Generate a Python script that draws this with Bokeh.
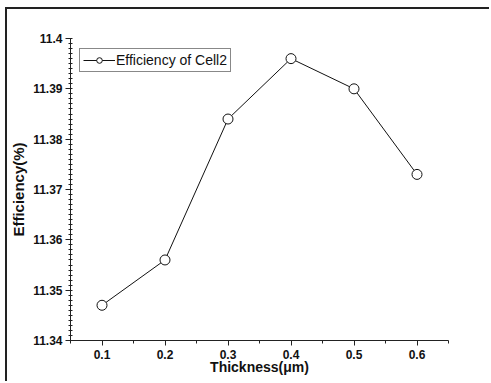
from bokeh.plotting import figure
from bokeh.models import Range1d, FixedTicker, Legend, LegendItem
from bokeh.embed import file_html
from bokeh.resources import INLINE

thickness = [0.1, 0.2, 0.3, 0.4, 0.5, 0.6]
efficiency = [11.347, 11.356, 11.384, 11.396, 11.390, 11.373]
x_ticks = [0.1, 0.2, 0.3, 0.4, 0.5, 0.6]
y_ticks = [11.34, 11.35, 11.36, 11.37, 11.38, 11.39, 11.40]
y_tick_labels = {11.34: "11.34", 11.35: "11.35", 11.36: "11.36", 11.37: "11.37",
                 11.38: "11.38", 11.39: "11.39", 11.40: "11.4"}
series_name = "Efficiency of Cell2"
x_title = "Thickness(μm)"
y_title = "Efficiency(%)"

FONT = "Liberation Sans"

p = figure(width=484, height=374, output_backend="svg", toolbar_location=None,
           x_range=Range1d(0.05, 0.65), y_range=Range1d(11.34, 11.40),
           min_border_left=61, min_border_right=43, min_border_top=29, min_border_bottom=43)
p.styles = {"margin-left": "5px", "margin-top": "7px",
            "border-left": "2px solid #222", "border-top": "2px solid #222"}
p.outline_line_color = None
p.grid.visible = False
p.background_fill_color = "white"
p.border_fill_color = "white"

line = p.line(thickness, efficiency, line_color="#111", line_width=1)
pts = p.scatter(thickness, efficiency, size=10, marker="circle",
                fill_color="white", line_color="#111", line_width=1)

xa = p.xaxis[0]
xa.ticker = FixedTicker(ticks=x_ticks, minor_ticks=[0.05, 0.15, 0.25, 0.35, 0.45, 0.55, 0.65])
xa.axis_label = x_title
ya = p.yaxis[0]
ya.ticker = FixedTicker(ticks=y_ticks,
                        minor_ticks=[round(11.34 + 0.001 * i, 3) for i in range(61)])
ya.major_label_overrides = y_tick_labels
ya.axis_label = y_title

for ax in (xa, ya):
    ax.axis_line_color = "#222"
    ax.axis_line_width = 1
    ax.major_tick_line_color = "#222"
    ax.minor_tick_line_color = "#222"
    ax.major_tick_in = 0
    ax.major_tick_out = 5
    ax.major_label_text_font = FONT
    ax.major_label_text_font_style = "bold"
    ax.major_label_text_font_size = "12px"
    ax.major_label_text_color = "#111"
    ax.axis_label_text_font = FONT
    ax.axis_label_text_font_style = "bold"
    ax.axis_label_text_color = "#111"

xa.axis_label_text_font_size = "14px"
ya.axis_label_text_font_size = "15px"
xa.minor_tick_in = 0
xa.minor_tick_out = 3
xa.major_label_standoff = 4
xa.axis_label_standoff = -3
ya.minor_tick_in = 2
ya.minor_tick_out = 2
ya.major_label_standoff = 3
ya.axis_label_standoff = 3

legend = Legend(items=[LegendItem(label=series_name, renderers=[line, pts])],
                location=(9, 268), padding=3, spacing=0, margin=0,
                glyph_width=32, glyph_height=14, label_height=14, label_standoff=1,
                label_text_font=FONT, label_text_font_size="14px",
                label_text_color="#111", border_line_color="#111",
                border_line_width=1, background_fill_alpha=1)
p.add_layout(legend)

open("out.html", "w").write(file_html(p, INLINE))
